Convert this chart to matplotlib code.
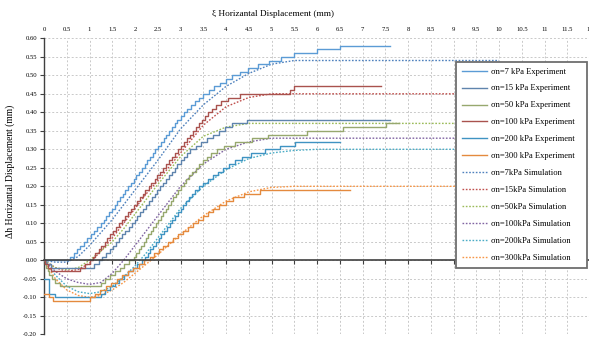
import matplotlib
matplotlib.use("Agg")
import matplotlib.pyplot as plt
from matplotlib.ticker import MultipleLocator, FuncFormatter, FormatStrFormatter

# ---------------- measured curves (xi in mm, dh in mm) ----------------
# Experiments are stepwise records (resolution 0.01 mm)
exp_7_x = [0.00, 0.575, 0.65, 0.725, 0.80, 0.875, 0.95, 1.025, 1.10, 1.175, 1.25,
           1.31, 1.37, 1.43, 1.49, 1.55, 1.61, 1.67, 1.73, 1.79, 1.85,
           1.91, 1.97, 2.03, 2.09, 2.15, 2.21, 2.27, 2.33, 2.39, 2.45,
           2.51, 2.57, 2.63, 2.69, 2.75, 2.81, 2.87, 2.93, 3.00, 3.07,
           3.15, 3.23, 3.32, 3.41, 3.50, 3.62, 3.74, 3.87, 4.00, 4.14,
           4.30, 4.48, 4.70, 4.95, 5.20, 5.50, 6.00, 6.50, 7.60]
exp_7_y = [0.00, 0.01, 0.02, 0.03, 0.04, 0.05, 0.06, 0.07, 0.08, 0.09, 0.10,
           0.11, 0.12, 0.13, 0.14, 0.15, 0.16, 0.17, 0.18, 0.19, 0.20,
           0.21, 0.22, 0.23, 0.24, 0.25, 0.26, 0.27, 0.28, 0.29, 0.30,
           0.31, 0.32, 0.33, 0.34, 0.35, 0.36, 0.37, 0.38, 0.39, 0.40,
           0.41, 0.42, 0.43, 0.44, 0.45, 0.46, 0.47, 0.48, 0.49, 0.50,
           0.51, 0.52, 0.53, 0.54, 0.55, 0.56, 0.57, 0.58, 0.58]

exp_15_x = [0.00, 0.05, 0.15, 1.10, 1.20,
            1.28, 1.36, 1.44, 1.51, 1.58, 1.65, 1.72, 1.79, 1.86, 1.93,
            1.99, 2.05, 2.12, 2.18, 2.24, 2.30, 2.37, 2.43, 2.49, 2.55,
            2.62, 2.68, 2.74, 2.81, 2.87, 2.93, 3.00, 3.07, 3.14, 3.21,
            3.33, 3.45, 3.58, 3.72, 3.85, 3.98, 4.13, 4.46, 7.60]
exp_15_y = [0.00, -0.01, -0.02, -0.01, 0.00,
            0.01, 0.02, 0.03, 0.04, 0.05, 0.06, 0.07, 0.08, 0.09, 0.10,
            0.11, 0.12, 0.13, 0.14, 0.15, 0.16, 0.17, 0.18, 0.19, 0.20,
            0.21, 0.22, 0.23, 0.24, 0.25, 0.26, 0.27, 0.28, 0.29, 0.30,
            0.31, 0.32, 0.33, 0.34, 0.35, 0.36, 0.37, 0.38, 0.38]

exp_50_x = [0.00, 0.02, 0.05, 0.08, 0.12, 0.18, 0.25, 0.35,
            1.25, 1.35, 1.45, 1.56, 1.66, 1.76, 1.87,
            1.97, 2.02, 2.08, 2.13, 2.19, 2.24, 2.29, 2.35, 2.40, 2.46,
            2.51, 2.57, 2.62, 2.68, 2.73, 2.79, 2.84, 2.90, 2.95, 3.01,
            3.07, 3.13, 3.19, 3.26, 3.33, 3.41, 3.49, 3.58, 3.68, 3.80,
            3.96, 4.20, 4.57, 4.93, 5.78, 6.58, 7.52, 7.80]
exp_50_y = [0.00, -0.01, -0.02, -0.03, -0.04, -0.05, -0.06, -0.07,
            -0.06, -0.05, -0.04, -0.03, -0.02, -0.01, 0.00,
            0.01, 0.02, 0.03, 0.04, 0.05, 0.06, 0.07, 0.08, 0.09, 0.10,
            0.11, 0.12, 0.13, 0.14, 0.15, 0.16, 0.17, 0.18, 0.19, 0.20,
            0.21, 0.22, 0.23, 0.24, 0.25, 0.26, 0.27, 0.28, 0.29, 0.30,
            0.31, 0.32, 0.33, 0.34, 0.35, 0.36, 0.37, 0.37]

exp_100_x = [0.00, 0.03, 0.08, 0.15, 0.80, 0.90, 1.00,
             1.07, 1.13, 1.20, 1.26, 1.33, 1.39, 1.46, 1.52, 1.59, 1.65,
             1.71, 1.78, 1.84, 1.91, 1.97, 2.04, 2.10, 2.17, 2.23, 2.30,
             2.36, 2.43, 2.49, 2.56, 2.62, 2.69, 2.75, 2.82, 2.88, 2.95,
             3.01, 3.08, 3.14, 3.21, 3.27, 3.34, 3.40, 3.47, 3.54, 3.61,
             3.69, 3.78, 3.88, 4.05, 4.30, 5.40, 5.50, 7.40]
exp_100_y = [0.00, -0.01, -0.02, -0.03, -0.02, -0.01, 0.00,
             0.01, 0.02, 0.03, 0.04, 0.05, 0.06, 0.07, 0.08, 0.09, 0.10,
             0.11, 0.12, 0.13, 0.14, 0.15, 0.16, 0.17, 0.18, 0.19, 0.20,
             0.21, 0.22, 0.23, 0.24, 0.25, 0.26, 0.27, 0.28, 0.29, 0.30,
             0.31, 0.32, 0.33, 0.34, 0.35, 0.36, 0.37, 0.38, 0.39, 0.40,
             0.41, 0.42, 0.43, 0.44, 0.45, 0.46, 0.47, 0.47]

exp_200_x = [0.00, 0.10, 0.25, 1.25, 1.35, 1.45, 1.55, 1.65, 1.75, 1.85, 1.95, 2.05, 2.15,
             2.22, 2.28, 2.34, 2.40, 2.46, 2.52, 2.58, 2.64, 2.70, 2.76,
             2.82, 2.88, 2.94, 3.00, 3.06, 3.12, 3.18, 3.25, 3.32, 3.40,
             3.50, 3.60, 3.71, 3.82, 3.94, 4.06, 4.19, 4.35, 4.55, 4.85,
             5.19, 5.52, 6.50]
exp_200_y = [-0.05, -0.09, -0.10, -0.09, -0.08, -0.07, -0.06, -0.05, -0.04, -0.03, -0.02, -0.01, 0.00,
             0.01, 0.02, 0.03, 0.04, 0.05, 0.06, 0.07, 0.08, 0.09, 0.10,
             0.11, 0.12, 0.13, 0.14, 0.15, 0.16, 0.17, 0.18, 0.19, 0.20,
             0.21, 0.22, 0.23, 0.24, 0.25, 0.26, 0.27, 0.28, 0.29, 0.30,
             0.31, 0.32, 0.32]

exp_300_x = [0.00, 0.12, 0.20, 1.00, 1.12, 1.24, 1.36, 1.48, 1.60, 1.72, 1.84, 1.96, 2.08, 2.20,
             2.32, 2.42, 2.52, 2.62, 2.72, 2.83, 2.94, 3.05, 3.16, 3.27,
             3.38, 3.49, 3.60, 3.72, 3.85, 3.99, 4.16, 4.40, 4.75, 6.72]
exp_300_y = [-0.09, -0.10, -0.11, -0.10, -0.09, -0.08, -0.07, -0.06, -0.05, -0.04, -0.03, -0.02, -0.01, 0.00,
             0.01, 0.02, 0.03, 0.04, 0.05, 0.06, 0.07, 0.08, 0.09, 0.10,
             0.11, 0.12, 0.13, 0.14, 0.15, 0.16, 0.17, 0.18, 0.19, 0.19]

# Simulations (smooth)
sim_x = [0.0, 0.25, 0.5, 0.75, 1.0, 1.25, 1.5, 1.75, 2.0, 2.25, 2.5, 3.0, 3.5,
         4.0, 4.5, 5.0, 5.5, 6.0, 7.0, 8.0, 9.0, 10.0]
sim_7_y = [0.0, -0.005, -0.005, 0.01, 0.04, 0.075, 0.11, 0.15, 0.19, 0.23, 0.27, 0.355, 0.42,
           0.47, 0.505, 0.53, 0.54, 0.54, 0.54, 0.54, 0.54, 0.54]
sim_15_y = [0.0, -0.02, -0.03, -0.025, -0.008, 0.025, 0.06, 0.10, 0.14, 0.18, 0.215, 0.29, 0.365,
            0.415, 0.44, 0.45, 0.45, 0.45, 0.45, 0.45, 0.45, 0.45]
sim_50_y = [0.0, -0.02, -0.025, -0.02, 0.0, 0.025, 0.05, 0.085, 0.125, 0.165, 0.205, 0.28, 0.335,
            0.36, 0.37, 0.37, 0.37, 0.37, 0.37, 0.37, 0.37, 0.37]
sim_100_y = [0.0, -0.03, -0.05, -0.06, -0.065, -0.06, -0.035, 0.0, 0.04, 0.08, 0.12, 0.20, 0.26,
             0.30, 0.32, 0.33, 0.33, 0.33, 0.33, 0.33, 0.33, 0.33]
sim_200_y = [0.0, -0.04, -0.07, -0.085, -0.09, -0.085, -0.07, -0.045, -0.015, 0.02, 0.06, 0.14, 0.20,
             0.245, 0.275, 0.29, 0.297, 0.30, 0.30, 0.30, 0.30, 0.30]
sim_300_y = [0.0, -0.05, -0.08, -0.095, -0.10, -0.095, -0.08, -0.06, -0.035, -0.01, 0.015, 0.07, 0.12,
             0.16, 0.185, 0.197, 0.20, 0.20, 0.20, 0.20, 0.20, 0.20]

exp_labels = ["σn=7 kPa Experiment", "σn=15 kPa Experiment", "σn=50 kPa Experiment",
              "σn=100 kPa Experiment", "σn=200 kPa Experiment", "σn=300 kPa Experiment"]
sim_labels = ["σn=7kPa Simulation", "σn=15kPa Simulation", "σn=50kPa Simulation",
              "σn=100kPa Simulation", "σn=200kPa Simulation", "σn=300kPa Simulation"]

exp_colors = ["#5B9BD5", "#5F84AD", "#97A86E", "#A9524E", "#3F93C2", "#E48A3E"]
sim_colors = ["#4F81BD", "#C0504D", "#9BBB59", "#8064A2", "#4BACC6", "#F79646"]

plt.rcParams["font.family"] = ["Liberation Serif", "DejaVu Serif"]

W, H = 589, 338
fig = plt.figure(figsize=(W / 100, H / 100), dpi=100)
ax = fig.add_axes([44 / W, 1 - 334.3 / H, 546 / W, (334.3 - 38.3) / H])

exp_sets = [(exp_7_x, exp_7_y), (exp_15_x, exp_15_y), (exp_50_x, exp_50_y),
            (exp_100_x, exp_100_y), (exp_200_x, exp_200_y), (exp_300_x, exp_300_y)]
sim_sets = [sim_7_y, sim_15_y, sim_50_y, sim_100_y, sim_200_y, sim_300_y]

handles = []
for (xs, ys), c, lab in zip(exp_sets, exp_colors, exp_labels):
    h, = ax.plot(xs, ys, drawstyle="steps-post", color=c, lw=1.0, label=lab, zorder=3)
    handles.append(h)
for ys, c, lab in zip(sim_sets, sim_colors, sim_labels):
    h, = ax.plot(sim_x, ys, color=c, lw=1.0, ls=(0, (1.2, 1.2)), label=lab, zorder=2)
    handles.append(h)

ax.set_xlim(0, 12)
ax.set_ylim(-0.20, 0.60)
ax.xaxis.set_major_locator(MultipleLocator(0.5))
ax.yaxis.set_major_locator(MultipleLocator(0.05))
ax.xaxis.set_major_formatter(FuncFormatter(lambda v, p: "%g" % v))
ax.yaxis.set_major_formatter(FormatStrFormatter("%.2f"))

ax.grid(True, color="#C9C9C9", lw=0.7, ls=(0, (2, 2)), zorder=0)
ax.set_axisbelow(True)

for s in ("top", "right"):
    ax.spines[s].set_visible(False)
ax.spines["bottom"].set_position(("data", 0))
ax.spines["bottom"].set_color("#404040")
ax.spines["bottom"].set_linewidth(1.2)
ax.spines["bottom"].set_zorder(4)
ax.spines["left"].set_color("#404040")
ax.spines["left"].set_linewidth(1.0)

ax.tick_params(axis="x", bottom=True, top=False, labelbottom=False, labeltop=True,
               direction="out", length=3, width=0.8, color="#404040",
               labelsize=4.8, pad=1.2)
ax.tick_params(axis="y", left=True, direction="out", length=3, width=0.8,
               color="#404040", labelsize=4.8, pad=2)

fig.text(273.5 / W, 1 - 13.5 / H, "ξ Horizantal Displacement (mm)", ha="center", va="center",
         fontsize=6.7)
fig.text(10 / W, 1 - 171 / H, "Δh Horizantal Displacement (mm)", ha="center", va="center",
         rotation=90, fontsize=6.9)

leg_x0 = (456 - 44) / 546
leg_y1 = (334.3 - 62) / 296
leg_w = (587 - 456) / 546
leg = ax.legend(handles=handles, loc="upper left",
                bbox_to_anchor=(leg_x0, leg_y1 - 0.5, leg_w, 0.5), mode="expand",
                fontsize=6.1, handlelength=3.0, labelspacing=1.06, borderpad=0.65,
                handletextpad=0.45, borderaxespad=0, frameon=True, fancybox=False,
                framealpha=1.0)
leg.get_frame().set_edgecolor("#6E6E6E")
leg.get_frame().set_linewidth(1.3)
leg.set_zorder(10)

fig.savefig("out.png", dpi=100)
